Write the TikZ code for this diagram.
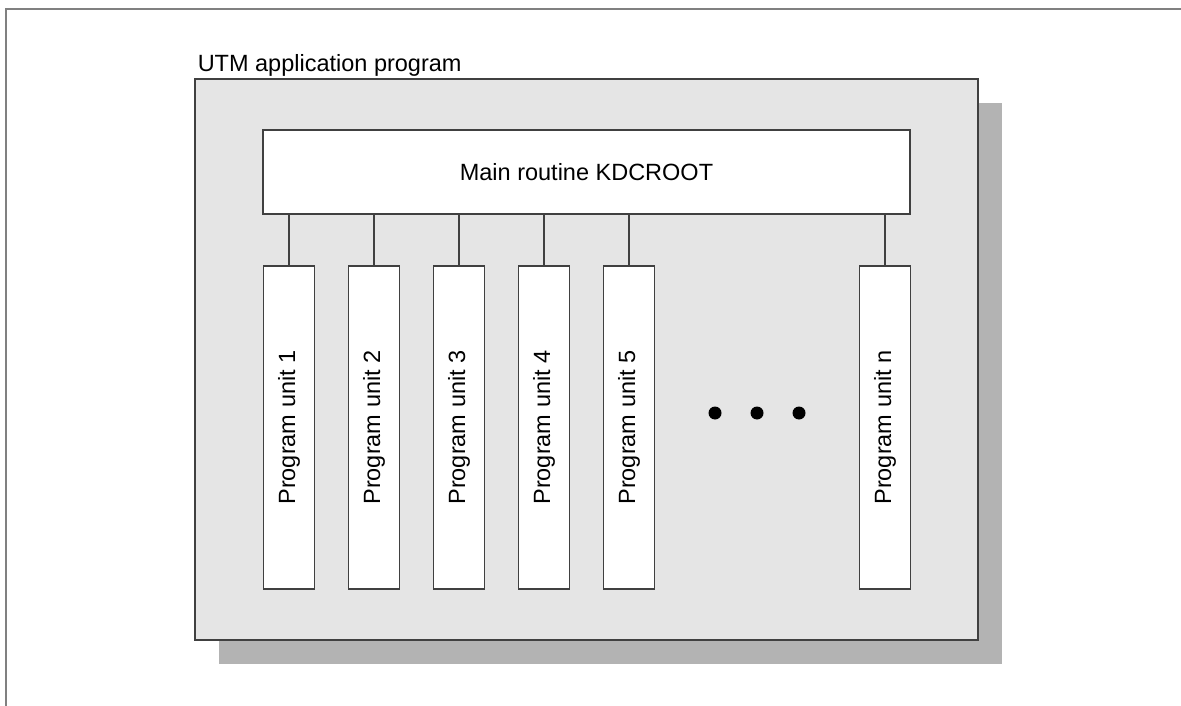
\documentclass[tikz,border=0pt]{standalone}
\usepackage{fontspec}
\setmainfont{Liberation Sans}
\definecolor{boxgray}{HTML}{E5E5E5}
\definecolor{shadowgray}{HTML}{B3B3B3}
\definecolor{linegray}{HTML}{404040}
\begin{document}
\begin{tikzpicture}[x=1pt,y=-1pt,line width=1.5pt,
  every node/.style={font=\fontsize{23.5}{28}\selectfont},
  unitbox/.style={draw=linegray,fill=white,minimum width=51pt,minimum height=323pt,inner sep=0pt},
  conn/.style={draw=linegray}]
\useasboundingbox (0,0) rectangle (1181,706);
% outer frame
\draw[gray] (1181,9) -- (6,9) -- (6,706);
% application box with shadow
\fill[shadowgray] (219,103) rectangle (1002,664);
\draw[draw=linegray,fill=boxgray] (195,79) rectangle (978,640);
\node[anchor=base west,inner sep=0pt] (title) at (197,72) {UTM application program};
\node[draw=linegray,fill=white,minimum width=647pt,minimum height=84pt,inner sep=0pt]
  (main) at (586.5,172) {Main routine KDCROOT};
% program units
\foreach \i in {1,...,5}
  \node[unitbox] (u\i) at ({289+85*(\i-1)},427.5) {\raisebox{-4pt}{\rotatebox{90}{Program unit \i}}};
\node[unitbox] (un) at (885,427.5) {\rotatebox{90}{Program unit n}};
\foreach \i in {1,...,5,n}
  \draw[conn] (u\i.north) -- (u\i.north |- main.south);
% dots
\foreach \x in {715,757,799}
  \fill (\x,413) circle (6.5pt);
\end{tikzpicture}
\end{document}
